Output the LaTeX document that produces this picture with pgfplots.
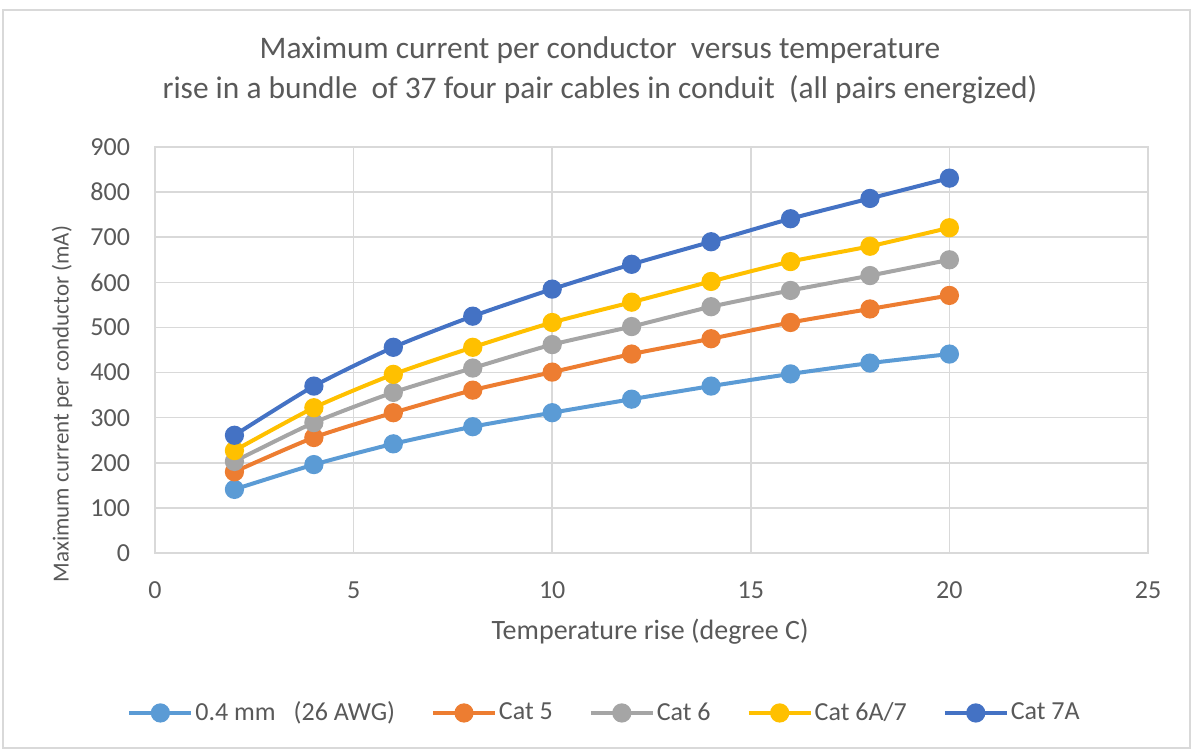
\documentclass[border=0pt]{standalone}
\usepackage{fontspec}
\setmainfont{Carlito}
\usepackage{pgfplots}
\pgfplotsset{compat=1.18}
\definecolor{c1}{HTML}{5B9BD5}
\definecolor{c2}{HTML}{ED7D31}
\definecolor{c3}{HTML}{A5A5A5}
\definecolor{c4}{HTML}{FFC000}
\definecolor{c5}{HTML}{4472C4}
\definecolor{txt}{HTML}{595959}
\definecolor{grd}{HTML}{D9D9D9}

\begin{document}
\begin{tikzpicture}
\path[use as bounding box] (-77.5bp,-99bp) rectangle (520bp,276.5bp);
\draw[grd, line width=0.75bp] (-76bp,-97.5bp) rectangle (517.5bp,271.5bp);
\node[text=txt, align=center, font=\fontsize{15.7bp}{20bp}\selectfont] at (222.5bp,241.5bp)
  {Maximum current per conductor\ \ versus temperature\\rise in a bundle\ \ of 37 four pair cables in conduit\ \ (all pairs energized)};
\begin{axis}[
  at={(0,0)}, anchor=south west, scale only axis,
  width=496.5bp, height=203bp,
  xmin=0, xmax=25, ymin=0, ymax=900,
  xtick={0,5,...,25}, ytick={0,100,...,900},
  grid=major, major grid style={grd, line width=0.75bp},
  axis line style={grd, line width=0.75bp},
  tick style={draw=none},
  ticklabel style={font=\fontsize{13bp}{15bp}\selectfont, text=txt},
  /pgf/number format/assume math mode=true,
  xticklabel style={yshift=-11bp},
  yticklabel style={xshift=-9bp},
  xlabel={Temperature rise (degree C)},
  ylabel={Maximum current per conductor (mA)},
  xlabel style={font=\fontsize{14bp}{16bp}\selectfont, text=txt,
    at={(axis description cs:0.4985,-0.1946)}, anchor=center},
  ylabel style={font=\fontsize{11.5bp}{13bp}\selectfont, text=txt,
    at={(axis description cs:-0.0937,0.367)}, anchor=center},
  legend style={at={(axis description cs:0.4527,-0.394)}, anchor=center,
    draw=none, fill=none, font=\fontsize{13bp}{15bp}\selectfont, text=txt,
    legend columns=5, nodes={inner sep=1bp},
    /tikz/every even column/.append style={column sep=17bp}},
  legend image code/.code={
    \draw[#1, mark=none] (0bp,0bp) -- (31bp,0bp);
    \draw[#1, only marks] plot coordinates {(15.5bp,0bp)};
  },
  every axis plot/.append style={line width=2bp, mark=*, mark size=3.8bp, smooth, tension=0.4},
]
\addplot[c1, mark options={fill=c1, draw=c1}] coordinates {
  (2,141) (4,196) (6,242) (8,280) (10,311) (12,341) (14,370) (16,397) (18,421) (20,441)};
\addlegendentry{0.4 mm\hspace{9bp}(26 AWG)}
\addplot[c2, mark options={fill=c2, draw=c2}] coordinates {
  (2,180) (4,256) (6,311) (8,361) (10,401) (12,441) (14,475) (16,511) (18,541) (20,571)};
\addlegendentry{Cat 5}
\addplot[c3, mark options={fill=c3, draw=c3}] coordinates {
  (2,203) (4,289) (6,356) (8,410) (10,462) (12,502) (14,546) (16,582) (18,615) (20,650)};
\addlegendentry{Cat 6}
\addplot[c4, mark options={fill=c4, draw=c4}] coordinates {
  (2,227) (4,322) (6,396) (8,456) (10,511) (12,556) (14,602) (16,646) (18,680) (20,721)};
\addlegendentry{Cat 6A/7}
\addplot[c5, mark options={fill=c5, draw=c5}] coordinates {
  (2,261) (4,370) (6,456) (8,525) (10,585) (12,640) (14,690) (16,741) (18,786) (20,831)};
\addlegendentry{Cat 7A}
\end{axis}
\end{tikzpicture}
\end{document}
